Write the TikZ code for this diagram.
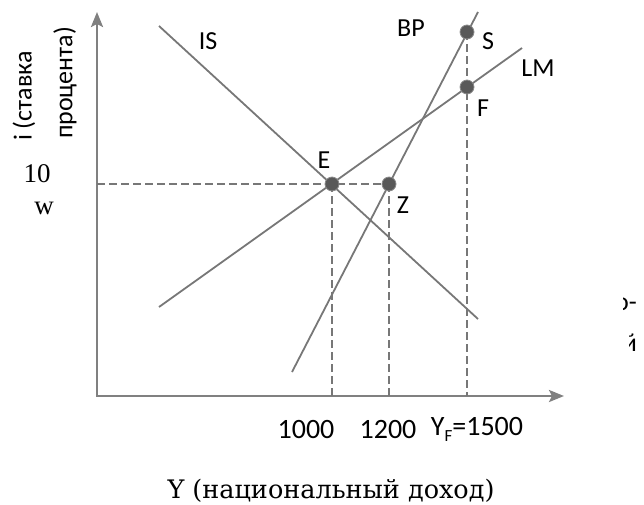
\documentclass[tikz,border=0pt]{standalone}
\usepackage{fontspec}
\setmainfont{Liberation Serif}
\newfontfamily\labfont{Carlito}
\newfontfamily\capfont{DejaVu Serif}
\usetikzlibrary{arrows.meta}
\definecolor{axisgray}{HTML}{808080}
\definecolor{linegray}{HTML}{777777}
\definecolor{dotgray}{HTML}{595959}
\begin{document}
\begin{tikzpicture}[x=1pt,y=-1pt,
  axisline/.style={draw=axisgray, line width=2.5pt,
    {Stealth[length=15pt,width=12pt,inset=3pt]}-{Stealth[length=15pt,width=12pt,inset=3pt]}},
  curve/.style={draw=linegray, line width=1.8pt},
  guide/.style={draw=linegray, line width=1.8pt, dash pattern=on 8pt off 4pt},
  dot/.style={circle, fill=dotgray, draw=dotgray!70!white, line width=0.8pt, inner sep=0pt, minimum size=14pt},
  lbl/.style={font=\labfont\fontsize{26}{30}\selectfont, inner sep=0pt},
  num/.style={font=\labfont\fontsize{28}{32}\selectfont, inner sep=0pt},
  ser/.style={font=\fontsize{27}{30}\selectfont, inner sep=0pt}]
\useasboundingbox (0,0) rectangle (644,504);
% axes
\coordinate (O) at (97,396);
\coordinate (ytip) at (97,12);
\coordinate (xtip) at (564,396);
\draw[axisline] (ytip) -- (O) -- (xtip);
% curve end points
\coordinate (IS1) at (159,26);
\coordinate (IS2) at (478,319);
\coordinate (LM1) at (159,307);
\coordinate (LM2) at (522,48);
\coordinate (BP1) at (292,372);
\coordinate (BP2) at (478,12);
\coordinate (a10) at (97,184);
% points (placed, drawn later)
\path (332,184) coordinate (Ec) (389,184) coordinate (Zc) (467,32) coordinate (Sc) (467,87) coordinate (Fc);
% dashed guides
\draw[guide] (a10) -- (Zc);
\draw[guide] (Ec) -- (Ec |- O);
\draw[guide] (Zc) -- (Zc |- O);
\draw[guide] (Sc) -- (Sc |- O);
% curves
\draw[curve] (IS1) -- (IS2);
\draw[curve] (LM1) -- (LM2);
\draw[curve] (BP1) -- (BP2);
% dots
\node[dot] (E) at (Ec) {};
\node[dot] (Z) at (Zc) {};
\node[dot] (S) at (Sc) {};
\node[dot] (F) at (Fc) {};
% labels
\node[lbl] (lIS) at (208,41) {IS};
\node[lbl] (lBP) at (411,28) {BP};
\node[lbl] (lS) at (488,41) {S};
\node[lbl] (lLM) at (538,68) {LM};
\node[lbl] (lF) at (483,108) {F};
\node[lbl] (lE) at (324,160) {E};
\node[lbl] (lZ) at (403,205) {Z};
% axis values
\node[num] (n1000) at (306,429) {1000};
\node[num] (n1200) at (388,429) {1200};
\node[num] (n1500) at (477,429) {Y\raisebox{-0.22em}{\fontsize{17}{17}\selectfont F}=1500};
\node[ser] (n10) at (37,174) {10};
\node[ser] (nw) at (44,208) {w};
% y axis title
\node[lbl, rotate=90, font=\labfont\fontsize{26}{30}\selectfont] (yt1) at (24,96) {i (ставка};
\node[lbl, rotate=90, font=\labfont\fontsize{26}{30}\selectfont] (yt2) at (65,83) {процента)};
% x axis title
\node[inner sep=0pt, font=\capfont\fontsize{25.5}{28}\selectfont] (xt) at (331,491) {Y (национальный доход)};
% clipped fragments on the right
\begin{scope}
\clip (623,280) rectangle (644,320);
\node[lbl, anchor=east] (frag1) at (637,304) {о-};
\end{scope}
\begin{scope}
\clip (629,320) rectangle (644,360);
\node[lbl, anchor=east] (frag2) at (637,343) {й};
\end{scope}
\end{tikzpicture}
\end{document}
